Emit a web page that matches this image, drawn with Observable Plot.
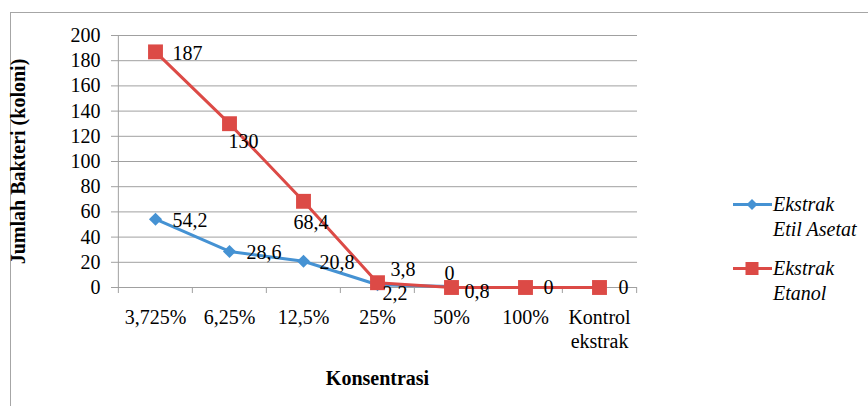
<!DOCTYPE html>
<html>
<head>
<meta charset="utf-8">
<script src="https://cdn.jsdelivr.net/npm/d3@7"></script>
<script src="https://cdn.jsdelivr.net/npm/@observablehq/plot@0.6"></script>
<style>
  body { margin: 0; background: #fff; }
  #chart { position: relative; width: 868px; height: 406px; overflow: hidden;
           font-family: 'Liberation Serif', serif; }
  #frame { position: absolute; left: 10px; top: 12px; width: 900px; height: 450px;
           border-left: 1px solid #a6a6a6; border-top: 1px solid #a6a6a6; pointer-events: none; }
  #plot { position: absolute; left: 0; top: 0; }
  #plot svg, #plot svg text { font-family: 'Liberation Serif', serif !important; }
  #legend { position: absolute; left: 733px; top: 192px; font-style: italic; font-size: 20px; color: #000;
            font-family: 'Liberation Serif', serif; }
  .item { position: relative; height: 64px; }
  .item svg { position: absolute; left: 0; top: 0; }
  .item .lbl { position: absolute; left: 40px; top: 0; line-height: 25px; white-space: nowrap; }
</style>
</head>
<body>
<div id="chart">
  <div id="frame"></div>
  <div id="plot"></div>
  <div id="legend"></div>
</div>
<script>
// Concentrations tested and colony counts for each extract
const categories = ["3,725%", "6,25%", "12,5%", "25%", "50%", "100%", "Kontrol ekstrak"];
const etilAsetat = [54.2, 28.6, 20.8, 2.2, 0.8, null, null];
const etanol = [187, 130, 68.4, 3.8, 0, 0, 0];
const yTicks = [0, 20, 40, 60, 80, 100, 120, 140, 160, 180, 200];
const seriesNames = ["Ekstrak Etil Asetat", "Ekstrak Etanol"];
const seriesColors = ["#4592d3", "#dc4a46"];

// Label offsets (px) for each value label
const etilLabelOffset = [[17, 1], [17, 1], [16, 1], [5, 9], [13, 5], null, null];
const etanolLabelOffset = [[17, 2], [-1, 18], [-10, 21], [13, -13], [-7, -14], [18, 0], [19, 0]];

const serif = "Liberation Serif";
const fs = 20;
const fmt = v => String(v).replace(".", ",");

function rowsFor(values, name, offsets) {
  return categories.map((c, i) => ({c, v: values[i], s: name, off: offsets[i]}))
    .filter(d => d.v != null);
}
const etilRows = rowsFor(etilAsetat, seriesNames[0], etilLabelOffset);
const etanolRows = rowsFor(etanol, seriesNames[1], etanolLabelOffset);

const width = 868, height = 406;
const marginLeft = 117, marginRight = 231, marginTop = 35, marginBottom = 119;
const step = (width - marginLeft - marginRight) / categories.length;
const axisGray = "#a0a0a0";

const labelMarks = [...etilRows, ...etanolRows].map(d =>
  Plot.text([d], {x: "c", y: "v", text: e => fmt(e.v), textAnchor: "start",
    dx: d.off[0], dy: d.off[1], fontSize: fs, fontFamily: serif, fill: "#000"}));

const chart = Plot.plot({
  width, height, marginLeft, marginRight, marginTop, marginBottom,
  style: {fontFamily: serif, color: "#000", background: "transparent"},
  x: {type: "point", domain: categories, padding: 0.5},
  y: {domain: [0, 200]},
  color: {domain: seriesNames, range: seriesColors},
  marks: [
    Plot.gridY(yTicks, {stroke: axisGray, strokeOpacity: 1}),
    Plot.ruleY([0], {stroke: axisGray}),
    Plot.ruleX([categories[0]], {dx: -step / 2, stroke: axisGray}),
    Plot.axisY(yTicks, {tickSize: 6, tickPadding: 11, fontSize: fs, fontFamily: serif, stroke: axisGray, fill: "#000", label: null}),
    Plot.axisX(categories, {tickSize: 6, dx: -step / 2, tickFormat: null, stroke: axisGray, label: null}),
    Plot.axisX([categories[categories.length - 1]], {tickSize: 6, dx: step / 2, tickFormat: null, stroke: axisGray, label: null}),
    Plot.axisX(categories, {tickSize: 0, tickPadding: 19, fontSize: fs, fontFamily: serif, fill: "#000",
      lineHeight: 1.2, tickFormat: d => d.replace(" ", "\n"), label: null}),
    Plot.text(["Jumlah Bakteri (koloni)"], {frameAnchor: "left", textAnchor: "middle", rotate: -90, dx: -99,
      fontSize: fs, fontFamily: serif, fontWeight: "bold", fill: "#000"}),
    Plot.text(["Konsentrasi"], {frameAnchor: "bottom", dy: 97, fontSize: fs, fontFamily: serif, fontWeight: "bold", fill: "#000"}),
    Plot.line(etilRows, {x: "c", y: "v", stroke: "s", strokeWidth: 3}),
    Plot.dot(etilRows, {x: "c", y: "v", fill: "s", symbol: "diamond2", r: 5.9, stroke: null}),
    Plot.line(etanolRows, {x: "c", y: "v", stroke: "s", strokeWidth: 3}),
    Plot.dot(etanolRows, {x: "c", y: "v", fill: "s", symbol: "square", r: 8.4, stroke: null}),
    ...labelMarks
  ]
});
document.getElementById("plot").appendChild(chart);

// Legend: line with marker, then the series name over two lines
const legend = d3.select("#legend");
const legendLines = [["Ekstrak", "Etil Asetat"], ["Ekstrak", "Etanol"]];
seriesNames.forEach((name, i) => {
  const item = legend.append("div").attr("class", "item");
  const svg = item.append("svg").attr("width", 40).attr("height", 25);
  svg.append("line").attr("x1", 0).attr("x2", 39).attr("y1", 12.5).attr("y2", 12.5)
    .attr("stroke", seriesColors[i]).attr("stroke-width", 3);
  if (i === 0) {
    svg.append("path").attr("d", "M19,7L24.5,12.5L19,18L13.5,12.5Z").attr("fill", seriesColors[i]);
  } else {
    svg.append("rect").attr("x", 12.5).attr("y", 6).attr("width", 13).attr("height", 13).attr("fill", seriesColors[i]);
  }
  item.append("div").attr("class", "lbl").html(legendLines[i].join("<br>"));
});
</script>
</body>
</html>
